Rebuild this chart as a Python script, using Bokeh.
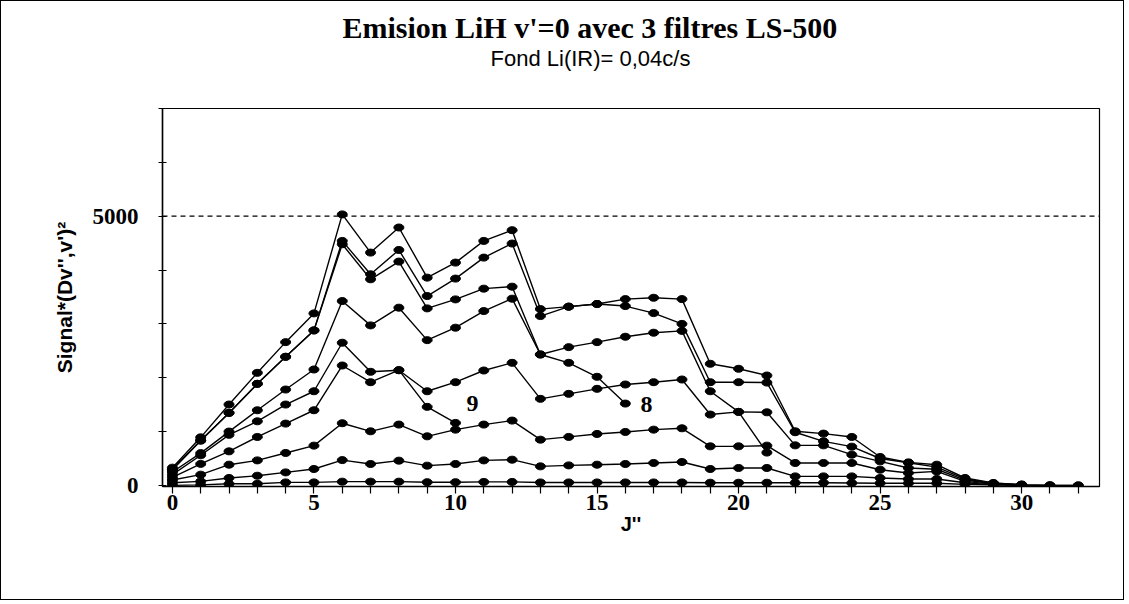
from bokeh.plotting import figure
from bokeh.models import Range1d, FixedTicker, Span, Label, Title
from bokeh.embed import file_html
from bokeh.resources import INLINE

# ---- data (J'' vs Signal*(Dv'',v')^2) ----
s1 = [330, 893, 1502, 2091, 2661, 3195, 5033, 4324, 4790, 3859, 4138, 4541, 4740, 3275, 3320,
      3370, 3460, 3485, 3460, 2259, 2166, 2041, 1005, 962, 900, 528, 428, 385, 138, 45, 15, 5, 0]
s2 = [300, 840, 1347, 1887, 2389, 2879, 4541, 3921, 4373, 3517, 3841, 4231, 4492, 3145, 3320,
      3370, 3331, 3200, 3000, 1917, 1917, 1910, 988, 819, 720, 500, 420, 340, 120, 40, 15]
s3 = [290, 830, 1347, 1887, 2389, 2879, 4479, 3828, 4157, 3288, 3455, 3654, 3691, 2432, 2568,
      2661, 2761, 2836, 2870, 1749, 1366, 610]
s4 = [250, 600, 1000, 1396, 1781, 2153, 3424, 2972, 3301, 2698, 2929, 3238, 3468, 2432, 2277,
      2017, 1520]
s5 = [200, 560, 940, 1191, 1502, 1749, 2650, 2110, 2140, 1749, 1917, 2134, 2277, 1608, 1701,
      1794, 1874, 1917, 1967, 1316, 1366, 1358, 744, 744, 571, 447, 324, 300, 100, 30, 10]
s6 = [150, 400, 633, 900, 1148, 1396, 2227, 1917, 2140, 1459, 1161]
s7 = [100, 200, 385, 465, 603, 739, 1155, 1005, 1130, 912, 1036, 1130, 1204, 850, 901,
      956, 993, 1036, 1061, 726, 726, 739, 417, 417, 417, 292, 231, 260, 75, 20, 10]
s8 = [50, 75, 138, 180, 242, 305, 470, 398, 460, 367, 398, 465, 478, 354, 372,
      385, 398, 417, 435, 305, 324, 324, 168, 168, 168, 138, 119, 120, 50, 10, 5]
s9 = [0, 10, 30, 30, 56, 56, 70, 70, 70, 60, 60, 65, 65, 55, 55, 55, 55, 55, 55, 50, 50,
      50, 50, 50, 45, 40, 40, 40, 20, 10, 0, 0, 0]
series = [s1, s2, s3, s4, s5, s6, s7, s8, s9]

x_ticks = list(range(0, 33))
x_labels = {0: "0", 5: "5", 10: "10", 15: "15", 20: "20", 25: "25", 30: "30"}
y_ticks = [0, 1000, 2000, 3000, 4000, 5000, 6000, 7000]
y_labels = {0: "0", 5000: "5000"}
ref_level = 5000

title_text = "Emision LiH v'=0 avec 3 filtres LS-500"
subtitle_text = "Fond Li(IR)= 0,04c/s"
series_tags = [("9", 10.6, 1530), ("8", 16.75, 1500)]

W, H = 1124, 600
p = figure(width=W, height=H, output_backend="svg", toolbar_location=None,
           x_range=Range1d(-0.35, 32.75), y_range=Range1d(-20, 7000),
           min_border_left=161, min_border_right=26, min_border_top=107,
           min_border_bottom=115)
p.styles = {"border": "1px solid black"}
p.xgrid.visible = False
p.ygrid.visible = False
p.background_fill_color = "white"
p.border_fill_color = "white"
p.outline_line_color = "black"
p.outline_line_width = 1.2

# axes
p.xaxis.ticker = FixedTicker(ticks=x_ticks)
p.xaxis.major_label_overrides = {t: x_labels.get(t, "") for t in x_ticks}
p.xaxis.minor_tick_line_color = None
p.xaxis.major_tick_in = 0
p.xaxis.major_tick_out = 7
p.xaxis.major_label_standoff = 1
p.xaxis.axis_label = "J''"
p.xaxis.axis_label_standoff = 0
p.yaxis.ticker = FixedTicker(ticks=y_ticks)
p.yaxis.major_label_overrides = {t: y_labels.get(t, "") for t in y_ticks}
p.yaxis.minor_tick_line_color = None
p.yaxis.major_tick_in = 4
p.yaxis.major_tick_out = 4
p.yaxis.major_label_standoff = 20
p.yaxis.axis_label = "Signal*(Dv'',v')²"
p.yaxis.axis_label_standoff = 14
for ax in (p.xaxis, p.yaxis):
    ax.axis_line_color = "black"
    ax.axis_line_width = 1.5
    ax.major_tick_line_color = "black"
    ax.major_tick_line_width = 1.2
    ax.major_label_text_font = "Liberation Serif"
    ax.major_label_text_font_style = "bold"
    ax.major_label_text_font_size = "23px"
    ax.major_label_text_color = "black"
    ax.axis_label_text_font = "Liberation Sans"
    ax.axis_label_text_font_style = "bold"
    ax.axis_label_text_color = "black"
p.xaxis.axis_label_text_font_size = "20px"
p.yaxis.axis_label_text_font_size = "21px"

p.add_layout(Span(location=ref_level, dimension="width", line_color="black",
                  line_width=1.2, line_dash="5 4"))

for s in series:
    xs = list(range(len(s)))
    p.line(xs, s, line_color="black", line_width=1.4)
    p.ellipse(xs, s, width=10, height=7, width_units="screen", height_units="screen",
              fill_color="black", line_color="black")

for txt, tx, ty in series_tags:
    p.add_layout(Label(x=tx, y=ty, text=txt, text_font="Liberation Serif",
                       text_font_style="bold", text_font_size="24px",
                       text_color="black", text_align="center", text_baseline="middle"))

# heading panels, stacked outward from the frame: spacer, subtitle, title
p.add_layout(Title(text="\u00a0", align="left", standoff=25,
                   text_font_size="10px", text_color="white"), "above")
p.add_layout(Title(text=subtitle_text, align="left", offset=328, standoff=0,
                   text_font="Liberation Sans", text_font_style="normal",
                   text_font_size="22px", text_color="black"), "above")
p.add_layout(Title(text=title_text, align="left", offset=180, standoff=0,
                   text_font="Liberation Serif", text_font_style="bold",
                   text_font_size="30px", text_color="black"), "above")

open("out.html", "w").write(file_html(p, INLINE))
